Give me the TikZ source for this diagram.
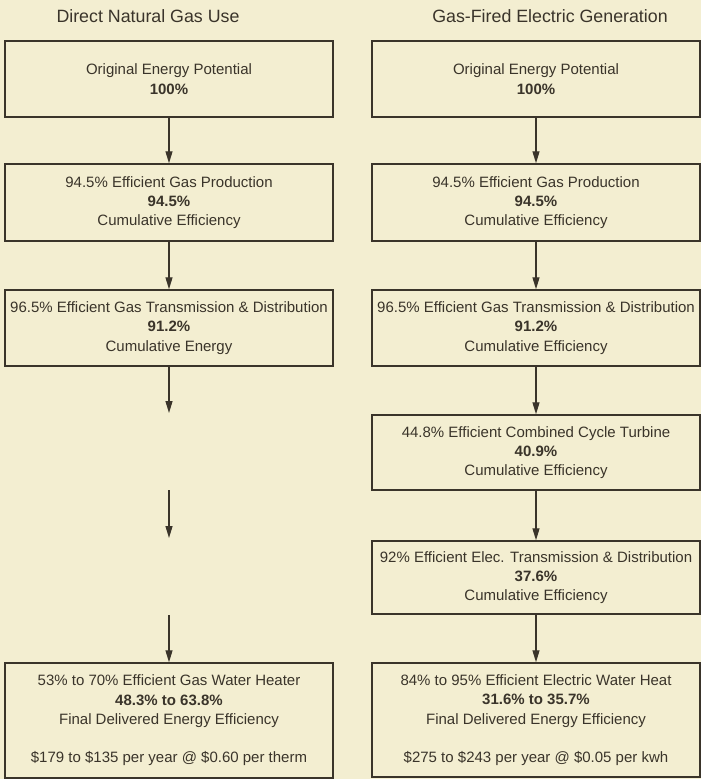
\documentclass[tikz,border=0pt]{standalone}
\usepackage{fontspec}
\setmainfont{Liberation Sans}
\usepackage{tikz}
\usetikzlibrary{arrows.meta}

\definecolor{paper}{RGB}{243,238,209}
\definecolor{ink}{RGB}{58,52,42}

\begin{document}
\begin{tikzpicture}[x=1pt,y=-1pt,
    box/.style={draw=ink, line width=1.5pt, minimum width=328pt, align=center,
        text=ink, inner sep=0pt, font=\fontsize{15}{19.3}\selectfont},
    title/.style={text=ink, font=\fontsize{17.8}{20}\selectfont},
    arr/.style={draw=ink, line width=1.3pt, -{Triangle[length=12pt,width=7pt]}}]

            % Background and margins
            \fill[paper] (0,0) rectangle (701,779);
            \useasboundingbox (0,0) rectangle (701,779);

            % Column titles
            \node[title] (tleft) at (148,16) {Direct Natural Gas Use};
            \node[title] (tright) at (550,16) {Gas-Fired Electric Generation};

            % Direct natural gas use (left column)
            \node[box, minimum height=76pt] (l1) at (169,79) {Original Energy Potential\\ \textbf{100\%}};
            \node[box, minimum height=77pt] (l2) at (169,202.5) {94.5\% Efficient Gas Production\\ \textbf{94.5\%}\\ Cumulative Efficiency};
            \node[box, minimum height=76pt] (l3) at (169,328) {96.5\% Efficient Gas Transmission \& Distribution\\ \textbf{91.2\%}\\ Cumulative Energy};
            \node[box, minimum height=115pt] (l6) at (169,720.5) {53\% to 70\% Efficient Gas Water Heater\\ \textbf{48.3\% to 63.8\%}\\ Final Delivered Energy Efficiency\\[19pt] \$179 to \$135 per year @ \$0.60 per therm};

            % Free arrow ends in the left column
            \coordinate (la) at (169,413);
            \coordinate (lb0) at (169,490);
            \coordinate (lb) at (169,538);
            \coordinate (lc0) at (169,615);

            % Gas-fired electric generation (right column)
            \node[box, minimum height=76pt] (r1) at (536,79) {Original Energy Potential\\ \textbf{100\%}};
            \node[box, minimum height=77pt] (r2) at (536,202.5) {94.5\% Efficient Gas Production\\ \textbf{94.5\%}\\ Cumulative Efficiency};
            \node[box, minimum height=76pt] (r3) at (536,328) {96.5\% Efficient Gas Transmission \& Distribution\\ \textbf{91.2\%}\\ Cumulative Efficiency};
            \node[box, minimum height=75pt] (r4) at (536,452.5) {44.8\% Efficient Combined Cycle Turbine\\ \textbf{40.9\%}\\ Cumulative Efficiency};
            \node[box, minimum height=73pt] (r5) at (536,577.5) {92\% Efficient Elec. Transmission \& Distribution\\ \textbf{37.6\%}\\ Cumulative Efficiency};
            \node[box, minimum height=114pt] (r6) at (536,720) {84\% to 95\% Efficient Electric Water Heat\\ \textbf{31.6\% to 35.7\%}\\ Final Delivered Energy Efficiency\\[19pt] \$275 to \$243 per year @ \$0.05 per kwh};

            % Arrows
            \draw[arr] (l1) -- (l2);
            \draw[arr] (l2) -- (l3);
            \draw[arr] (l3) -- (la);
            \draw[arr] (lb0) -- (lb);
            \draw[arr] (lc0) -- (l6);

            \draw[arr] (r1) -- (r2);
            \draw[arr] (r2) -- (r3);
            \draw[arr] (r3) -- (r4);
            \draw[arr] (r4) -- (r5);
            \draw[arr] (r5) -- (r6);
        \end{tikzpicture}
\end{document}
